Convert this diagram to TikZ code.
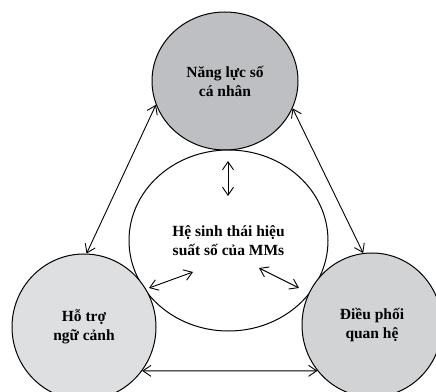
\documentclass[tikz,border=0pt]{standalone}
\usepackage{fontspec}
\setmainfont{Liberation Serif}
\usetikzlibrary{shapes.geometric,arrows.meta}
\definecolor{topgray}{RGB}{190,191,195}
\definecolor{blgray}{RGB}{222,223,225}
\definecolor{brgray}{RGB}{210,211,213}
\begin{document}
\begin{tikzpicture}[x=1pt,y=1pt,
  circ/.style={ellipse, draw, line width=1pt, inner sep=0pt, align=center,
    font=\bfseries\fontsize{15.5}{19}\selectfont},
  link/.style={line width=0.9pt,
    {Straight Barb[length=8pt,width=11pt]}-{Straight Barb[length=8pt,width=11pt]}}]
\useasboundingbox (0,0) rectangle (436,391);
\node[circ, fill=topgray, minimum width=146pt, minimum height=138pt] (top) at (225,310) {Năng lực số\\cá nhân};
\node[circ, fill=white, minimum width=199pt, minimum height=181pt] (mid) at (228.5,150.5) {Hệ sinh thái hiệu\\suất số của MMs};
\node[circ, fill=blgray, minimum width=144pt, minimum height=146pt] (bl) at (84,64) {Hỗ trợ\\ngữ cảnh};
\node[circ, fill=brgray, minimum width=140pt, minimum height=144pt] (br) at (372,66) {Điều phối\\quan hệ};
\coordinate (v1) at (228,230);
\coordinate (v2) at (228,195);
\coordinate (l1) at (149,103);
\coordinate (l2) at (193,119);
\coordinate (r1) at (259,123);
\coordinate (r2) at (299,103);
\draw[link] (top.199) -- (bl.88);
\draw[link] (top.338) -- (br.97);
\draw[link] (bl.-37.5) -- (br.220);
\draw[link] (v1) -- (v2);
\draw[link] (l1) -- (l2);
\draw[link] (r1) -- (r2);
\end{tikzpicture}
\end{document}
